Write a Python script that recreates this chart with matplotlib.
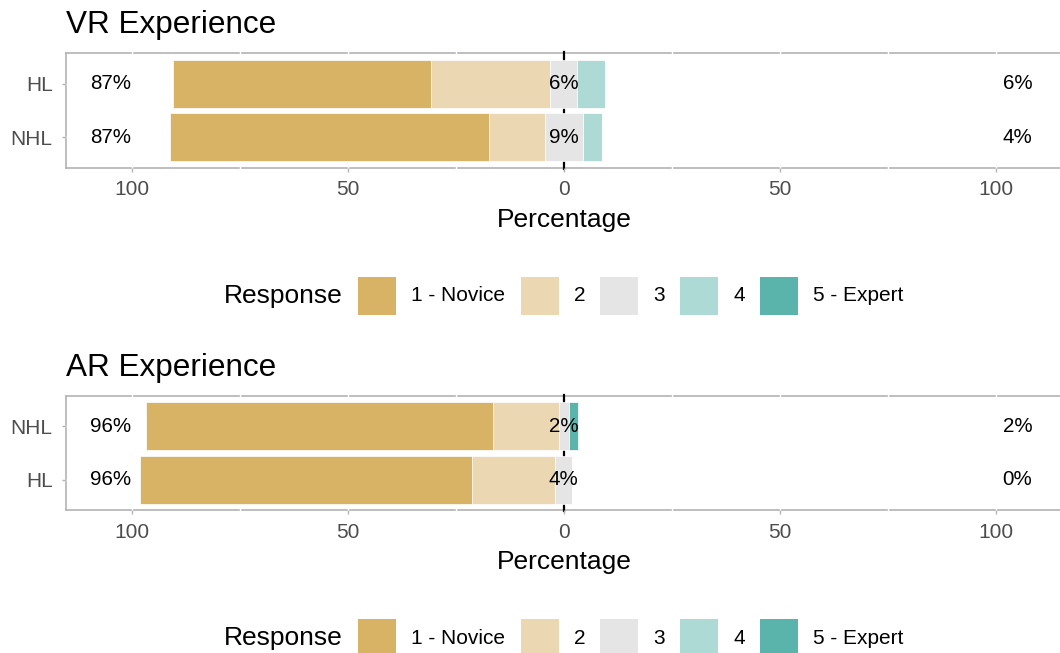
import numpy as np
import matplotlib.pyplot as plt
from matplotlib.patches import Rectangle

plt.rcParams['font.family'] = ['Liberation Sans', 'DejaVu Sans']

# ===================== DATA =====================
levels = ["1 - Novice", "2", "3", "4", "5 - Expert"]
colors = ["#D8B365", "#EBD8B2", "#E5E5E5", "#AEDAD6", "#5AB4AC"]

# percentages per response level, rows listed bottom -> top
vr_groups = ["NHL", "HL"]
vr_values = [
    [73.9, 13.0, 8.7, 4.4, 0.0],   # NHL
    [59.5, 27.7, 6.3, 6.4, 0.0],   # HL
]
ar_groups = ["HL", "NHL"]
ar_values = [
    [76.9, 19.2, 3.9, 0.0, 0.0],   # HL
    [80.4, 15.2, 2.2, 0.0, 2.2],   # NHL
]

W, H = 1060, 653
GRAY = "#B3B3B3"


def fx(x):
    return x / W


def fy(y):
    return 1 - y / H


fig = plt.figure(figsize=(W / 100, H / 100), dpi=100)


def likert_panel(top, title, groups, values):
    bottom = top + 114.2
    ax = fig.add_axes([fx(65.7), fy(bottom), 996.3 / W, 114.2 / H])
    ax.set_xlim(-115.3, 115.3)
    ax.set_ylim(0.43, len(groups) + 0.57)

    for sp in ax.spines.values():
        sp.set_color(GRAY)
        sp.set_linewidth(1.2)
        sp.set_zorder(0.5)

    # white grid lines cutting the border
    for gx in np.arange(-100, 101, 25):
        ax.plot([gx, gx], [-0.02, 1.02], color="white", lw=1.0, zorder=0.6,
                transform=ax.get_xaxis_transform(), clip_on=False)
    for i in range(len(groups)):
        ax.plot([-0.005, 0.005], [i + 1, i + 1], color="white", lw=1.0, zorder=0.6,
                transform=ax.get_yaxis_transform(), clip_on=False)

    ax.plot([0, 0], [-0.01, 1.01], color="black", lw=1.6, zorder=1,
            transform=ax.get_xaxis_transform(), clip_on=False)

    for i, (g, v) in enumerate(zip(groups, values)):
        y = i + 1
        half = v[2] / 2
        # low side
        ax.barh(y, v[1], left=-half - v[1], height=0.9, color=colors[1],
                edgecolor="white", lw=0.5, zorder=2)
        ax.barh(y, v[0], left=-half - v[1] - v[0], height=0.9, color=colors[0],
                edgecolor="white", lw=0.5, zorder=2)
        # neutral
        ax.barh(y, v[2], left=-half, height=0.9, color=colors[2],
                edgecolor="white", lw=0.5, zorder=2)
        # high side
        ax.barh(y, v[3], left=half, height=0.9, color=colors[3],
                edgecolor="white", lw=0.5, zorder=2)
        ax.barh(y, v[4], left=half + v[3], height=0.9, color=colors[4],
                edgecolor="white", lw=0.5, zorder=2)

        ax.text(-105, y, f"{v[0] + v[1]:.0f}%", ha="center", va="center",
                fontsize=14.8, zorder=3)
        ax.text(0, y, f"{v[2]:.0f}%", ha="center", va="center",
                fontsize=14.8, zorder=3)
        ax.text(105, y, f"{v[3] + v[4]:.0f}%", ha="center", va="center",
                fontsize=14.8, zorder=3)

    ax.set_yticks(range(1, len(groups) + 1))
    ax.set_yticklabels(groups)
    ax.set_xticks([-100, -50, 0, 50, 100])
    ax.set_xticklabels(["100", "50", "0", "50", "100"])
    ax.tick_params(axis="both", colors=GRAY, labelcolor="#4D4D4D",
                   labelsize=15, length=3, width=1)
    ax.tick_params(axis="y", pad=6.5)
    ax.tick_params(axis="x", pad=6.0)

    fig.text(fx(66), fy(top - 20.3), title, fontsize=22.7, ha="left", va="baseline")
    fig.text(fx(564), fy(bottom + 52.2), "Percentage", fontsize=19,
             ha="center", va="center")

    # legend row
    ly = bottom + 128.2
    fig.text(fx(224), fy(ly), "Response", fontsize=19, ha="left", va="center")
    key_x = [358, 521, 600, 680, 760]
    for kx, lab, c in zip(key_x, levels, colors):
        fig.add_artist(Rectangle((fx(kx), fy(ly + 19)), 38 / W, 38 / H,
                                 transform=fig.transFigure, color=c, lw=0))
        fig.text(fx(kx + 53), fy(ly), lab, fontsize=15, ha="left", va="center")
    return ax


likert_panel(53.3, "VR Experience", vr_groups, vr_values)
likert_panel(396.0, "AR Experience", ar_groups, ar_values)

fig.savefig("out.png", dpi=100)
